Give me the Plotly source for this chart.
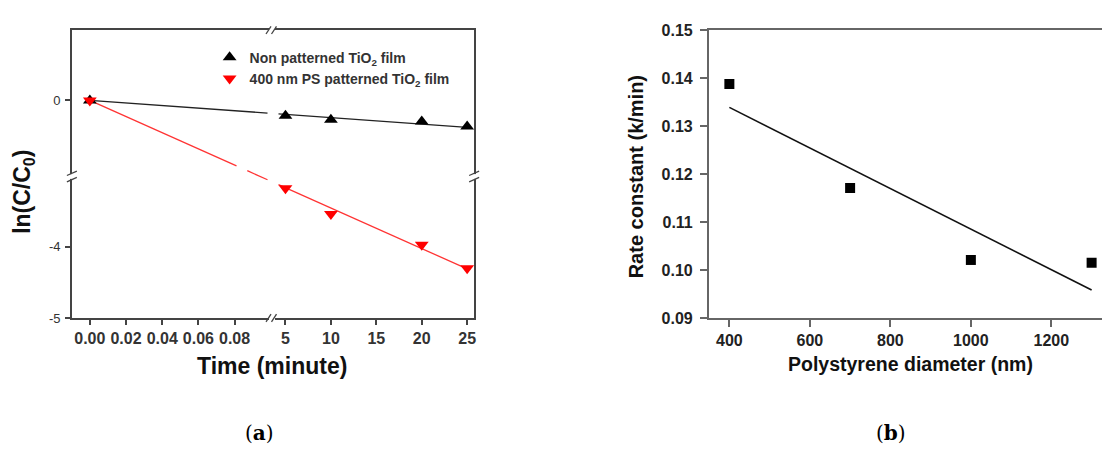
import plotly.graph_objects as go
import numpy as np

# ---------------- Panel (a) data ----------------
time_min = [0, 5, 10, 20, 25]
ln_non_patterned = [0.0, -0.215, -0.268, -0.295, -0.362]
ln_ps400 = [0.0, -3.18, -3.54, -3.97, -4.30]
fit_time = [0, 25]
fit_non_patterned = [0.0, -0.375]
fit_ps400 = [0.0, -4.31]
a_xtick_vals = [0.0, 0.02, 0.04, 0.06, 0.08, 5, 10, 15, 20, 25]
a_xtick_text = ["0.00", "0.02", "0.04", "0.06", "0.08", "5", "10", "15", "20", "25"]
a_ytick_vals = [0, -4, -5]
a_ytick_text = ["0", "-4", "-5"]

# ---------------- Panel (b) data ----------------
diameter_nm = [400, 700, 1000, 1300]
rate_constant = [0.1388, 0.1171, 0.1021, 0.1015]
b_xtick_vals = [400, 600, 800, 1000, 1200]
b_ytick_vals = [0.09, 0.10, 0.11, 0.12, 0.13, 0.14, 0.15]

W, H = 1104, 457
def px(x): return x / W
def py(y): return 1 - y / H

# Broken-axis scales for panel (a) (display units = pixels)
def bx(v):
    return 90 + v / 0.02 * 36.25 if v < 1 else 286 + (v - 5) * 9.1
def by(v):
    return 96 - v * 74.5 if v > -2 else 248 + (-4 - v) * 74

X_GAP = (268, 279)
Y_GAP = (164, 169)

def broken_line(x0, y0, x1, y1, xgaps, ygaps):
    cuts = []
    for a, b in xgaps:
        if x1 != x0:
            ta, tb = sorted(((a - x0) / (x1 - x0), (b - x0) / (x1 - x0)))
            cuts.append((max(ta, 0), min(tb, 1)))
    for a, b in ygaps:
        if y1 != y0:
            ta, tb = sorted(((a - y0) / (y1 - y0), (b - y0) / (y1 - y0)))
            if tb > 0 and ta < 1:
                cuts.append((max(ta, 0), min(tb, 1)))
    cuts = sorted(c for c in cuts if c[1] > c[0])
    segs, t = [], 0.0
    for a, b in cuts:
        if a > t:
            segs.append((t, a))
        t = max(t, b)
    if t < 1:
        segs.append((t, 1))
    xs, ys = [], []
    for a, b in segs:
        xs += [x0 + a * (x1 - x0), x0 + b * (x1 - x0), None]
        ys += [y0 + a * (y1 - y0), y0 + b * (y1 - y0), None]
    return xs, ys

fig = go.Figure()

# fit lines panel (a)
lx, ly = broken_line(bx(fit_time[0]), by(fit_non_patterned[0]), bx(fit_time[1]), by(fit_non_patterned[1]), [X_GAP], [])
fig.add_trace(go.Scatter(x=lx, y=ly, mode="lines", line=dict(color="#222222", width=1.3),
                         showlegend=False, xaxis="x", yaxis="y", hoverinfo="skip"))
lx, ly = broken_line(bx(fit_time[0]), by(fit_ps400[0]), bx(fit_time[1]), by(fit_ps400[1]), [X_GAP], [Y_GAP])
fig.add_trace(go.Scatter(x=lx, y=ly, mode="lines", line=dict(color="#ff3333", width=1.3),
                         showlegend=False, xaxis="x", yaxis="y", hoverinfo="skip"))

fig.add_trace(go.Scatter(x=[bx(t) for t in time_min], y=[by(v) for v in ln_non_patterned],
                         mode="markers", name="Non patterned TiO<sub>2</sub> film",
                         marker=dict(symbol="triangle-up", size=12, color="#000000"),
                         xaxis="x", yaxis="y"))
fig.add_trace(go.Scatter(x=[bx(t) for t in time_min], y=[by(v) for v in ln_ps400],
                         mode="markers", name="400 nm PS patterned TiO<sub>2</sub> film",
                         marker=dict(symbol="triangle-down", size=12, color="#ff0000"),
                         xaxis="x", yaxis="y"))

# Panel (b)
coef = np.polyfit(diameter_nm, rate_constant, 1)
fit_x = [diameter_nm[0], diameter_nm[-1]]
fig.add_trace(go.Scatter(x=fit_x, y=list(np.polyval(coef, fit_x)), mode="lines",
                         line=dict(color="#111111", width=1.6), showlegend=False,
                         xaxis="x2", yaxis="y2"))
fig.add_trace(go.Scatter(x=diameter_nm, y=rate_constant, mode="markers",
                         marker=dict(symbol="square", size=10, color="#000000"),
                         showlegend=False, xaxis="x2", yaxis="y2"))

FONT = "Liberation Sans, Arial, sans-serif"
ax_a = dict(showgrid=False, zeroline=False, showline=True, linecolor="#444444", linewidth=1.5,
            mirror=True, ticks="outside", ticklen=5, tickwidth=1.5, tickcolor="#444444")
fig.update_layout(
    width=W, height=H, margin=dict(l=0, r=0, t=0, b=0),
    paper_bgcolor="white", plot_bgcolor="white",
    font=dict(family=FONT, color="#222222"),
    xaxis=dict(domain=[px(72), px(475)], range=[72, 475], anchor="y",
               tickvals=[bx(v) for v in a_xtick_vals], ticktext=a_xtick_text,
               tickfont=dict(size=16, weight="bold", color="#333333"), **ax_a),
    yaxis=dict(domain=[py(322), py(23)], range=[322, 23], anchor="x",
               tickvals=[by(v) for v in a_ytick_vals], ticktext=a_ytick_text,
               tickfont=dict(size=13, color="#333333"), ticklabelstandoff=2, **ax_a),
    xaxis2=dict(domain=[px(710), 1.0], range=[348.7, 1325.8], anchor="y2",
                tickvals=b_xtick_vals, showgrid=False, zeroline=False, showline=True,
                linecolor="#666666", linewidth=1.5, mirror=True, ticks="outside", ticklen=7,
                tickwidth=1.5, tickcolor="#666666",
                tickfont=dict(size=16, weight="bold", color="#222222")),
    yaxis2=dict(domain=[py(322), py(23)], range=[0.09, 0.15], anchor="x2",
                tickvals=b_ytick_vals, tickformat=".2f", showgrid=False, zeroline=False,
                showline=True, linecolor="#666666", linewidth=1.5, mirror=False,
                ticks="outside", ticklen=7, tickwidth=1.5, tickcolor="#666666",
                ticklabelstandoff=4,
                tickfont=dict(size=16, weight="bold", color="#222222")),
    legend=dict(x=px(210), y=py(35), xanchor="left", yanchor="top",
                bgcolor="rgba(0,0,0,0)", font=dict(size=14, weight="bold", color="#333333"),
                tracegroupgap=0),
    showlegend=True,
)

# break marks
shapes = []
def seg(x0, y0, x1, y1, color, width):
    shapes.append(dict(type="line", xref="paper", yref="paper", x0=px(x0), y0=py(y0),
                       x1=px(x1), y1=py(y1), line=dict(color=color, width=width), layer="above"))
for yy in (23, 322):
    seg(269.5, yy, 275.5, yy, "white", 5)
    seg(266.5, yy + 4, 271.5, yy - 4, "#444444", 1.3)
    seg(272.0, yy + 4, 277.0, yy - 4, "#444444", 1.3)
for xx in (72, 475):
    seg(xx, 172.5, xx, 177.5, "white", 5)
    seg(xx - 5, 174, xx + 5, 169.5, "#444444", 1.3)
    seg(xx - 5, 180.5, xx + 5, 176, "#444444", 1.3)
fig.update_layout(shapes=shapes)

ann = [
    dict(text="Time (minute)", x=px(272), y=py(372), font=dict(size=23, weight="bold", color="#111111")),
    dict(text="ln(C/C<sub>0</sub>)", x=px(24), y=py(191), textangle=-90,
         font=dict(size=23, weight="bold", color="#111111")),
    dict(text="Rate constant (k/min)", x=px(638), y=py(175), textangle=-90,
         font=dict(size=20, weight="bold", color="#111111")),
    dict(text="Polystyrene diameter (nm)", x=px(912), y=py(370),
         font=dict(size=19.5, weight="bold", color="#111111")),
    dict(text="(<b>a</b>)", x=px(260), y=py(441), font=dict(size=20, family="DejaVu Serif", color="#000000")),
    dict(text="(<b>b</b>)", x=px(893), y=py(441), font=dict(size=20, family="DejaVu Serif", color="#000000")),
]
for a in ann:
    a.update(xref="paper", yref="paper", showarrow=False, xanchor="center", yanchor="middle")
fig.update_layout(annotations=ann)

fig.write_html("out.html")
